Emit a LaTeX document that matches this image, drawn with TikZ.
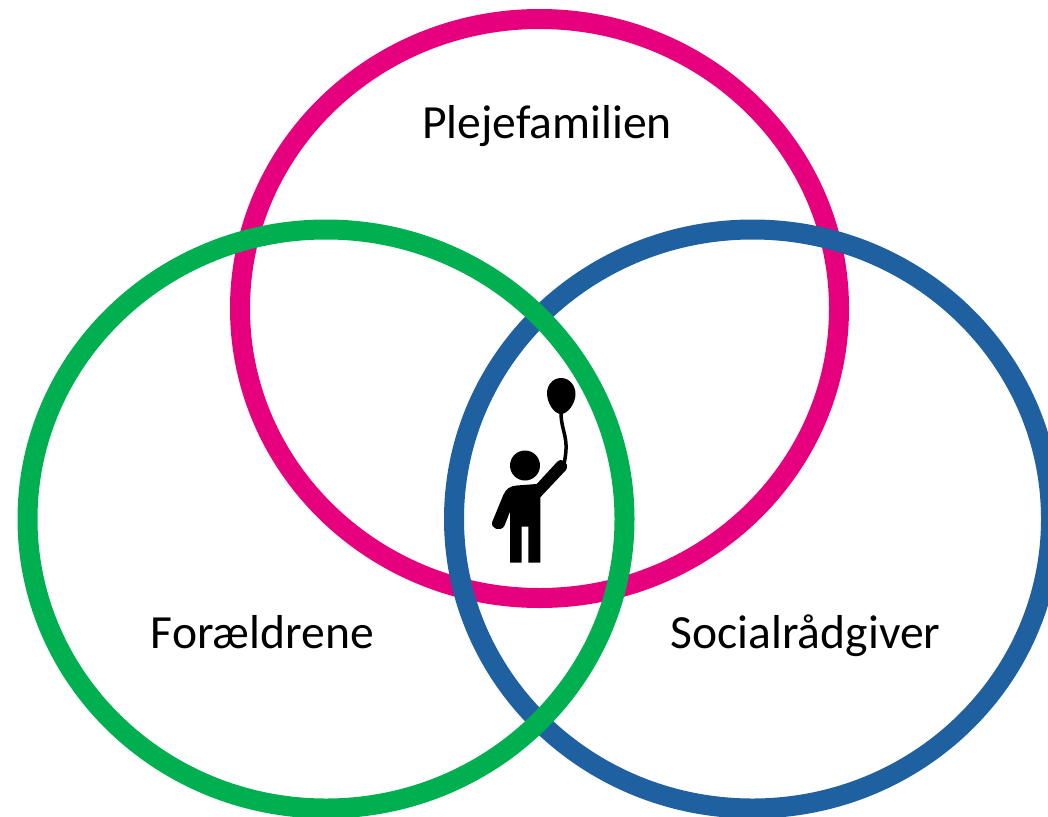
\documentclass[tikz,border=0pt]{standalone}
\usepackage{fontspec}
\setmainfont{Carlito}
\definecolor{pinkring}{RGB}{230,0,126}
\definecolor{greenring}{RGB}{0,176,80}
\definecolor{bluering}{RGB}{31,96,160}
\begin{document}
\begin{tikzpicture}[x=1pt,y=-1pt,
                    ring/.style={line width=20pt},
                    main node/.style={font=\fontsize{47.6}{58}\selectfont,text=black,anchor=base}]
  \useasboundingbox (0,0) rectangle (1048,816);
  \begin{scope}
    \clip (0,0) rectangle (1048,816);
    \draw[ring,pinkring] (539.5,308.5) ellipse (299.5 and 289.5);
    \draw[ring,bluering] (752.5,519) ellipse (298.5 and 289.5);
    \draw[ring,greenring] (326,519) ellipse (298.5 and 289.5);
  \end{scope}

  \node[main node] (plejefamilien) at (547,138) {Plejefamilien};
  \node[main node] (foraeldrene) at (262.5,648) {Forældrene};
  \node[main node] (socialraadgiver) at (805.5,648) {Socialrådgiver};

  % balloon and string
  \fill (561,378) .. controls (570,378) and (575.5,386) .. (575.5,394)
    .. controls (575.5,403) and (568,414) .. (561,414)
    .. controls (554,414) and (547,403) .. (547,393)
    .. controls (547,385) and (553,378) .. (561,378) -- cycle;
  \draw[line width=3.5pt] (561,412) .. controls (561,433) and (570,436) .. (564,464);
  % child
  \fill (525,465.5) circle (15);
  \fill (510,562.7) -- (510,511.7) -- (504.3,526) .. controls (501,532) and (490,529) .. (492.3,521.7)
    -- (503.3,495) .. controls (506,489) and (510,486) .. (516.7,485.5)
    -- (536.7,484) -- (557.3,461.7) .. controls (562,457) and (570,463) .. (566,470)
    -- (540.3,497.3) -- (540.3,562.7) -- (528.3,562.7) -- (528.3,526.7)
    -- (521.7,526.7) -- (521.7,562.7) -- cycle;
\end{tikzpicture}
\end{document}
